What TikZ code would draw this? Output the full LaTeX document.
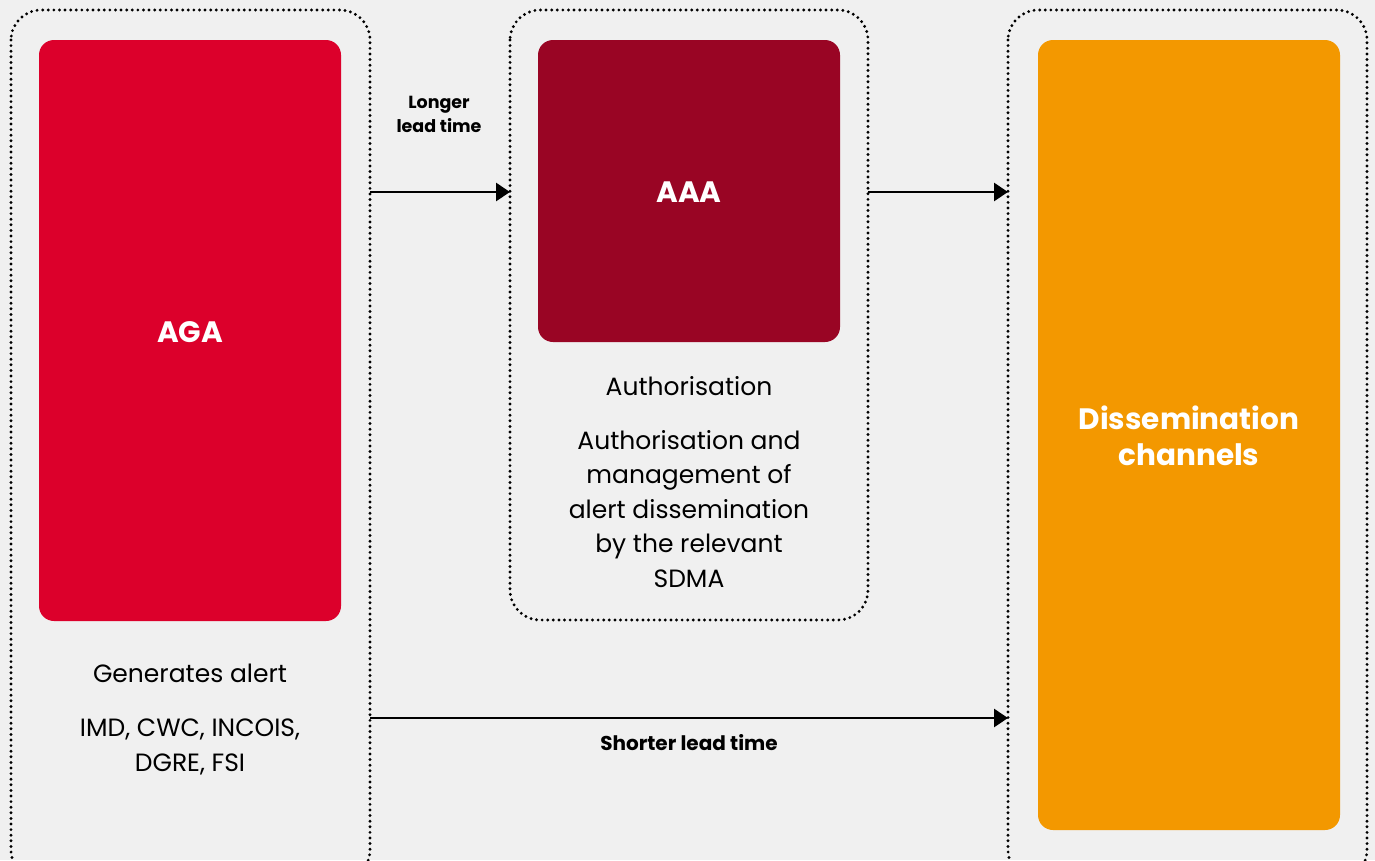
\documentclass[tikz,border=0pt]{standalone}
\usepackage{fontspec}
\setmainfont{Poppins}
\usetikzlibrary{arrows.meta}
\definecolor{bg}{HTML}{F0F0F0}
\definecolor{agared}{HTML}{DC002B}
\definecolor{aaared}{HTML}{990524}
\definecolor{dissorange}{HTML}{F39800}
\tikzset{
  x=1pt, y=-1pt,
  group/.style={draw=black, line width=3.2pt, dash pattern=on 0pt off 5.6pt, line cap=round, rounded corners=30pt},
  blocktext/.style={text=white, font=\bfseries\fontsize{29.5}{36}\selectfont, align=center},
  caption/.style={font=\fontsize{25}{34.5}\selectfont, align=center, text=black},
  flowlabel/.style={font=\bfseries\fontsize{17.5}{24}\selectfont, align=center, text=black},
  flow/.style={line width=2.7pt, -{Triangle[length=14pt, width=18pt]}}
}
\begin{document}
\begin{tikzpicture}
\useasboundingbox[fill=bg] (0,0) rectangle (1375,860);
\begin{scope}
\clip (0,0) rectangle (1375,860);
% outer dotted groups
\draw[group] (11,10) rectangle (370,880);
\draw[group] (510,10) rectangle (868,620);
\draw[group] (1008,10) rectangle (1367,880);
\end{scope}
\coordinate (lefteast) at (370,0);
\coordinate (midwest) at (510,0);
\coordinate (mideast) at (868,0);
\coordinate (rightwest) at (1008,0);

% coloured blocks
\fill[agared, rounded corners=15pt] (39,40) rectangle (341,621);
\fill[aaared, rounded corners=15pt] (538,40) rectangle (840,342);
\fill[dissorange, rounded corners=15pt] (1038,40) rectangle (1340,830);
\node[blocktext] (aga) at (190,332) {AGA};
\node[blocktext] (aaa) at (689,192) {AAA};
\node[blocktext] (diss) at (1189,436) {Dissemination\\channels};

% captions (base anchor sits on the last line)
\node[caption, anchor=base] (gen) at (190,682) {Generates alert};
\node[caption, anchor=base] (agencies) at (190,771) {IMD, CWC, INCOIS,\\DGRE, FSI};
\node[caption, anchor=base] (auth) at (689,395) {Authorisation};
\node[caption, anchor=base] (authdesc) at (689,587) {Authorisation and\\management of\\alert dissemination\\by the relevant\\SDMA};

% flows
\coordinate (short) at (0,718);
\draw[flow] (lefteast |- aaa.center) -- (midwest |- aaa.center);
\draw[flow] (mideast |- aaa.center) -- (rightwest |- aaa.center);
\draw[flow] (lefteast |- short) -- (rightwest |- short);
\node[flowlabel] (longer) at (439,114) {Longer\\lead time};
\node[flowlabel, font=\bfseries\fontsize{20}{24}\selectfont] (shorter) at (689,743) {Shorter lead time};
\end{tikzpicture}
\end{document}
